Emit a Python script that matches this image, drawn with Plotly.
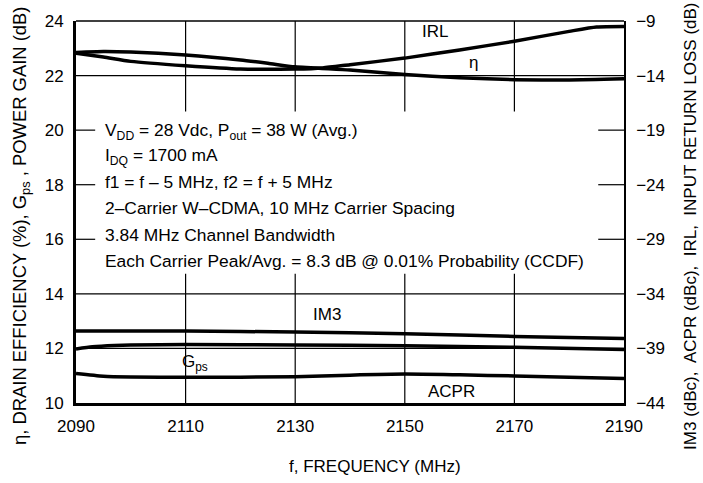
import plotly.graph_objects as go

# ---- data ----
freq_eta = [2090, 2095, 2100, 2110, 2120, 2125, 2130, 2140, 2150, 2160, 2170, 2180, 2190]
eta = [22.85, 22.88, 22.86, 22.75, 22.57, 22.45, 22.32, 22.2, 22.04, 21.92, 21.85, 21.84, 21.88]

freq_gps = [2090, 2093, 2097, 2100, 2110, 2130, 2150, 2170, 2190]
gps = [11.98, 12.06, 12.11, 12.13, 12.14, 12.13, 12.1, 12.04, 11.96]

freq_irl = [2090, 2095, 2100, 2110, 2120, 2130, 2135, 2140, 2150, 2160, 2170, 2180, 2185, 2190]
irl = [-11.95, -12.3, -12.7, -13.1, -13.4, -13.4, -13.3, -13.0, -12.4, -11.65, -10.85, -9.95, -9.55, -9.5]

freq_im3 = [2090, 2110, 2130, 2150, 2170, 2190]
im3 = [-37.4, -37.4, -37.5, -37.65, -37.9, -38.1]

freq_acpr = [2090, 2095, 2100, 2110, 2130, 2140, 2150, 2160, 2170, 2190]
acpr = [-41.3, -41.55, -41.62, -41.65, -41.6, -41.45, -41.35, -41.42, -41.52, -41.75]

x_ticks = [2090, 2110, 2130, 2150, 2170, 2190]
y_left_ticks = [10, 12, 14, 16, 18, 20, 22, 24]
y_right_ticks = [-44, -39, -34, -29, -24, -19, -14, -9]

notes = [
    "V<sub>DD</sub> = 28 Vdc, P<sub>out</sub> = 38 W (Avg.)",
    "I<sub>DQ</sub> = 1700 mA",
    "f1 = f \u2013 5 MHz, f2 = f + 5 MHz",
    "2\u2013Carrier W\u2013CDMA, 10 MHz Carrier Spacing",
    "3.84 MHz Channel Bandwidth",
    "Each Carrier Peak/Avg. = 8.3 dB @ 0.01% Probability (CCDF)",
]

FONT = "Liberation Sans, Arial, sans-serif"
FS = 17
W, H = 703, 483
L, R, T, B = 76, 79, 19, 80
PW, PH = W - L - R, H - T - B


def px(xp):
    return (xp - L) / PW


def py(yp):
    return (H - B - yp) / PH


line_style = dict(color="black", width=3.5, shape="spline", smoothing=0.6)

fig = go.Figure()
fig.add_trace(go.Scatter(x=freq_eta, y=eta, mode="lines", line=line_style, yaxis="y"))
fig.add_trace(go.Scatter(x=freq_gps, y=gps, mode="lines", line=line_style, yaxis="y"))
fig.add_trace(go.Scatter(x=freq_irl, y=irl, mode="lines", line=line_style, yaxis="y2"))
fig.add_trace(go.Scatter(x=freq_im3, y=im3, mode="lines", line=line_style, yaxis="y2"))
fig.add_trace(go.Scatter(x=freq_acpr, y=acpr, mode="lines", line=line_style, yaxis="y2"))

annotations = []
note_y = [130, 155, 181, 207, 234, 260]
for txt, yp in zip(notes, note_y):
    annotations.append(dict(text=txt, xref="paper", yref="paper", x=px(103), y=py(yp),
                            xanchor="left", yanchor="middle", showarrow=False,
                            font=dict(family=FONT, size=17.4, color="black")))

labels = [
    ("IRL", 435, 30),
    ("\u03b7", 474, 61),
    ("IM3", 327, 314),
    ("G<sub>ps</sub>", 195, 363),
    ("ACPR", 451, 391),
]
for txt, xp, yp in labels:
    annotations.append(dict(text=txt, xref="paper", yref="paper", x=px(xp), y=py(yp),
                            xanchor="center", yanchor="middle", showarrow=False,
                            font=dict(family=FONT, size=FS, color="black")))

# axis titles
annotations.append(dict(text="\u03b7, DRAIN EFFICIENCY (%), G<sub>ps</sub> , POWER GAIN (dB)",
                        xref="paper", yref="paper", x=px(21), y=py(225), textangle=-90,
                        xanchor="center", yanchor="middle", showarrow=False,
                        font=dict(family=FONT, size=18.4, color="black")))
annotations.append(dict(text="IM3 (dBc),\u00a0 ACPR (dBc),\u00a0 IRL,\u00a0 INPUT RETURN LOSS (dB)",
                        xref="paper", yref="paper", x=px(691), y=py(226), textangle=-90,
                        xanchor="center", yanchor="middle", showarrow=False,
                        font=dict(family=FONT, size=17, color="black")))
annotations.append(dict(text="f, FREQUENCY (MHz)", xref="paper", yref="paper",
                        x=px(375), y=py(467), xanchor="center", yanchor="middle",
                        showarrow=False, font=dict(family=FONT, size=FS, color="black")))

# grid drawn as segments: the condition text sits in a gap of the grid
GRID = dict(color="black", width=1.2)
gap_x0, gap_x1 = 2093.5, 2185.3
gap_y0, gap_y1 = 14.74, 20.68
shapes = []
for xv in [2110, 2130, 2150, 2170]:
    shapes.append(dict(type="line", xref="x", yref="y", x0=xv, x1=xv, y0=10, y1=gap_y0,
                       line=GRID, layer="below"))
    shapes.append(dict(type="line", xref="x", yref="y", x0=xv, x1=xv, y0=gap_y1, y1=24,
                       line=GRID, layer="below"))
for yv in [12, 14, 22]:
    shapes.append(dict(type="line", xref="x", yref="y", x0=2090, x1=2190, y0=yv, y1=yv,
                       line=GRID, layer="below"))
for yv in [16, 18, 20]:
    shapes.append(dict(type="line", xref="x", yref="y", x0=2090, x1=gap_x0, y0=yv, y1=yv,
                       line=GRID, layer="below"))
    shapes.append(dict(type="line", xref="x", yref="y", x0=gap_x1, x1=2190, y0=yv, y1=yv,
                       line=GRID, layer="below"))
# top border
shapes.append(dict(type="line", xref="paper", yref="paper", x0=0, x1=1, y0=1, y1=1,
                   line=dict(color="black", width=1.5)))

fig.update_layout(
    width=W, height=H,
    margin=dict(l=L, r=R, t=T, b=B),
    paper_bgcolor="white", plot_bgcolor="white",
    showlegend=False,
    font=dict(family=FONT, size=FS, color="black"),
    xaxis=dict(range=[2090, 2190], tickvals=x_ticks, ticktext=[str(v) for v in x_ticks],
               showgrid=False, showline=True, linecolor="black", linewidth=3, ticks="",
               ticklabelstandoff=6, zeroline=False, tickfont=dict(family=FONT, size=FS)),
    yaxis=dict(range=[10, 24], tickvals=y_left_ticks, ticktext=[str(v) for v in y_left_ticks],
               showgrid=False, showline=True, linecolor="black", linewidth=3, ticks="",
               ticklabelstandoff=6, zeroline=False, tickfont=dict(family=FONT, size=FS)),
    yaxis2=dict(range=[-44, -9], overlaying="y", side="right", tickvals=y_right_ticks,
                ticktext=["\u2212" + str(abs(v)) for v in y_right_ticks],
                showgrid=False, showline=True, linecolor="black", linewidth=1.5,
                ticks="", ticklabelstandoff=7, zeroline=False, tickfont=dict(family=FONT, size=FS)),
    annotations=annotations,
    shapes=shapes,
)

fig.write_html("out.html", config={"displayModeBar": False},
               post_script="document.body.style.margin='0';document.body.style.overflow='hidden';")
